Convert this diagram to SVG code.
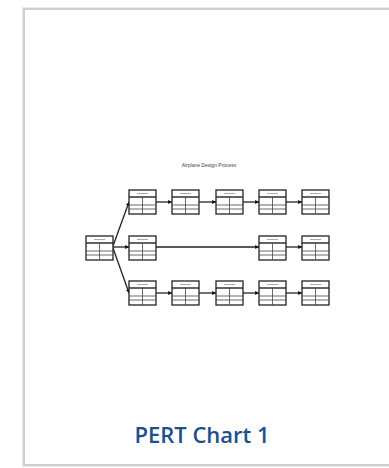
<svg xmlns="http://www.w3.org/2000/svg" width="389" height="468" viewBox="0 0 389 468">
<defs>
<style>
.card{fill:#fff;stroke:#cfcfcf;stroke-width:2}
.nb{fill:#fff;stroke:#222;stroke-width:1.3}
.ln{stroke:#444;stroke-width:0.8;fill:none}
.tx{stroke:#aaa;stroke-width:1}
.cn{stroke:#222;stroke-width:1.3;fill:none}
.title{font-family:"Liberation Sans",Arial,sans-serif;font-size:5px;fill:#444}
.cap{font-family:"Open Sans",sans-serif;font-size:22px;font-weight:600;fill:#1c4f8e}
</style>
<marker id="ah" viewBox="0 0 6 6" refX="6" refY="3" markerWidth="3" markerHeight="3" orient="auto"><path d="M0,0L6,3L0,6z" fill="#111"/></marker>
<g id="nd">
<rect class="nb" x="0" y="0" width="27" height="24"/>
<line class="tx" x1="8" y1="3.5" x2="19" y2="3.5"/>
<line class="ln" x1="0" y1="7" x2="27" y2="7" style="stroke-width:1.4;stroke:#222"/>
<line class="ln" x1="0" y1="15" x2="27" y2="15"/>
<line class="ln" x1="0" y1="19" x2="27" y2="19"/>
<line class="ln" x1="13.5" y1="7" x2="13.5" y2="24"/>
</g>
</defs>
<rect x="22" y="7" width="376" height="460" fill="#ececec"/>
<rect class="card" x="24" y="9" width="372" height="456"/>
<text class="title" x="209" y="167" text-anchor="middle">Airplane Design Process</text>
<g id="connectors">
<path class="cn" d="M113,246 L129,202" marker-end="url(#ah)"/>
<path class="cn" d="M113,247 L129,247" marker-end="url(#ah)"/>
<path class="cn" d="M113,248 L129,293" marker-end="url(#ah)"/>
<line class="cn" x1="156" y1="202" x2="172" y2="202" marker-end="url(#ah)"/>
<line class="cn" x1="199" y1="202" x2="216" y2="202" marker-end="url(#ah)"/>
<line class="cn" x1="242" y1="202" x2="259" y2="202" marker-end="url(#ah)"/>
<line class="cn" x1="286" y1="202" x2="302" y2="202" marker-end="url(#ah)"/>
<line class="cn" x1="156" y1="247" x2="259" y2="247" marker-end="url(#ah)"/>
<line class="cn" x1="286" y1="247" x2="302" y2="247" marker-end="url(#ah)"/>
<line class="cn" x1="156" y1="293" x2="172" y2="293" marker-end="url(#ah)"/>
<line class="cn" x1="199" y1="293" x2="216" y2="293" marker-end="url(#ah)"/>
<line class="cn" x1="242" y1="293" x2="259" y2="293" marker-end="url(#ah)"/>
<line class="cn" x1="286" y1="293" x2="302" y2="293" marker-end="url(#ah)"/>
</g>
<g id="n0"><use href="#nd" x="86" y="236"/></g>
<g id="n1"><use href="#nd" x="129" y="190"/></g>
<g id="n2"><use href="#nd" x="172" y="190"/></g>
<g id="n3"><use href="#nd" x="216" y="190"/></g>
<g id="n4"><use href="#nd" x="259" y="190"/></g>
<g id="n5"><use href="#nd" x="302" y="190"/></g>
<g id="n6"><use href="#nd" x="129" y="236"/></g>
<g id="n7"><use href="#nd" x="259" y="236"/></g>
<g id="n8"><use href="#nd" x="302" y="236"/></g>
<g id="n9"><use href="#nd" x="129" y="281"/></g>
<g id="n10"><use href="#nd" x="172" y="281"/></g>
<g id="n11"><use href="#nd" x="216" y="281"/></g>
<g id="n12"><use href="#nd" x="259" y="281"/></g>
<g id="n13"><use href="#nd" x="302" y="281"/></g>
<text class="cap" x="202" y="443" text-anchor="middle">PERT Chart 1</text>
</svg>
